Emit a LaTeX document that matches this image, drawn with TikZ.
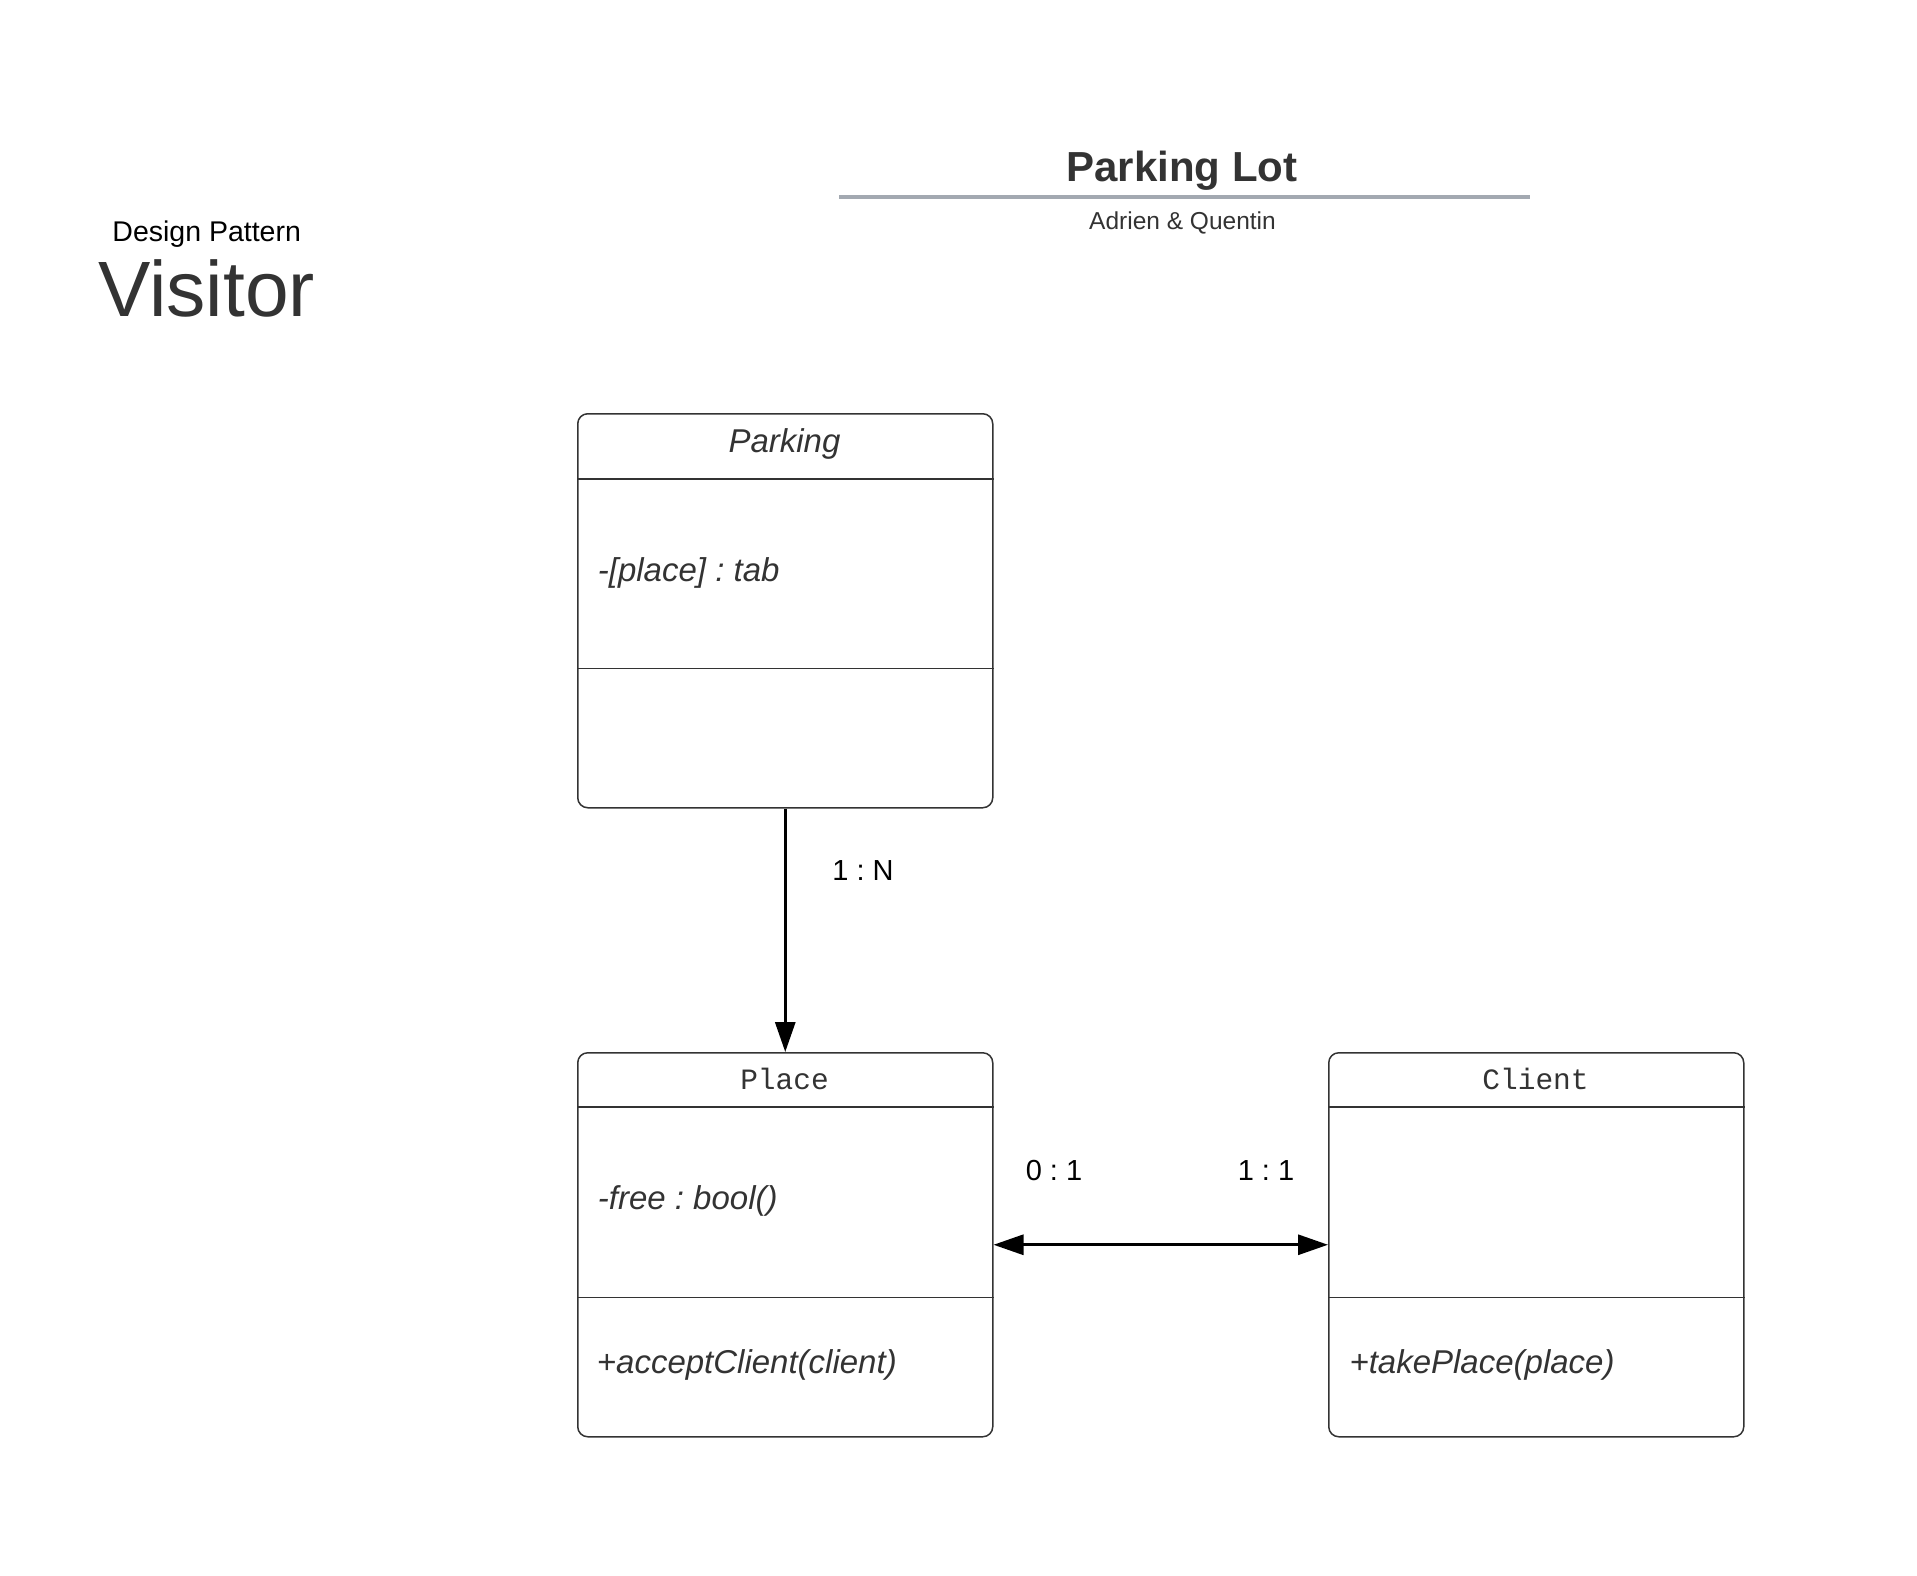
\documentclass[tikz,border=0pt]{standalone}
\usepackage{fontspec}
\setmainfont{Liberation Sans}
\setmonofont{Liberation Mono}
\usetikzlibrary{arrows.meta,calc}
\definecolor{txt}{HTML}{333333}
\definecolor{rulegray}{HTML}{A3A9B1}
\frenchspacing
\begin{document}
\begin{tikzpicture}[x=1pt,y=-1pt,
  box/.style={draw=txt, line width=1.5pt, rounded corners=10pt, minimum width=415pt, anchor=north west, inner sep=0pt},
  headline/.style={draw=txt, line width=2pt},
  secline/.style={draw=txt, line width=1pt},
  member/.style={anchor=base west, inner sep=0pt, text=txt, font=\fontsize{33}{40}\selectfont\itshape},
  classname/.style={anchor=base, inner sep=0pt, text=txt},
  mult/.style={anchor=base, inner sep=0pt, text=black, font=\fontsize{29}{34}\selectfont},
  conn/.style={line width=3pt, black},
  tip/.tip={Triangle[length=30pt,width=20pt]}
]
\useasboundingbox (0,0) rectangle (1917,1575);

% headings
\node[anchor=base, inner sep=0pt, text=black, font=\fontsize{28.5}{34}\selectfont] (dp) at (206.7,241) {Design Pattern};
\node[anchor=base, inner sep=0pt, text=txt, font=\fontsize{78.5}{90}\selectfont] (visitor) at (206.5,316) {Visitor};
\node[anchor=base, inner sep=0pt, text=txt, font=\fontsize{42}{50}\selectfont\bfseries] (title) at (1182,181) {Parking Lot};
\draw[rulegray, line width=4pt] (839,197) -- (1530,197);
\node[anchor=base, inner sep=0pt, text=txt, font=\fontsize{24.5}{30}\selectfont] (authors) at (1182.5,229.3) {Adrien \& Quentin};

% Parking class
\node[box, minimum height=394pt] (parking) at (577,413) {};
\draw[headline] ($(parking.north west)+(0,66)$) -- ($(parking.north east)+(0,66)$);
\draw[secline] ($(parking.north west)+(0,255)$) -- ($(parking.north east)+(0,255)$);
\node[classname, font=\fontsize{33}{40}\selectfont\itshape] (parkingname) at (784.5,452.7) {Parking};
\node[member] (parkingattr) at (597.7,581) {-[place] : tab};

% Place class
\node[box, minimum height=384pt] (place) at (577,1052) {};
\draw[headline] ($(place.north west)+(0,55)$) -- ($(place.north east)+(0,55)$);
\draw[secline] ($(place.north west)+(0,245)$) -- ($(place.north east)+(0,245)$);
\node[classname, font=\fontsize{29.5}{34}\selectfont\ttfamily] (placename) at (784.5,1089.3) {Place};
\node[member] (placeattr) at (597.7,1209) {-free : bool()};
\node[member] (placeop) at (596.7,1373.5) {+acceptClient(client)};

% Client class
\node[box, minimum height=384pt] (client) at (1328,1052) {};
\draw[headline] ($(client.north west)+(0,55)$) -- ($(client.north east)+(0,55)$);
\draw[secline] ($(client.north west)+(0,245)$) -- ($(client.north east)+(0,245)$);
\node[classname, font=\fontsize{29.5}{34}\selectfont\ttfamily] (clientname) at (1535.5,1089.3) {Client};
\node[member] (clientop) at (1349.3,1373.5) {+takePlace(place)};

% connectors
\draw[conn, -tip] (parking.south) -- (place.north);
\draw[conn, tip-tip] (place.east) -- (client.west);

% multiplicities
\node[mult] (m1) at (863,880) {1 : N};
\node[mult] (m2) at (1054,1180) {0 : 1};
\node[mult] (m3) at (1266,1180) {1 : 1};
\end{tikzpicture}
\end{document}
